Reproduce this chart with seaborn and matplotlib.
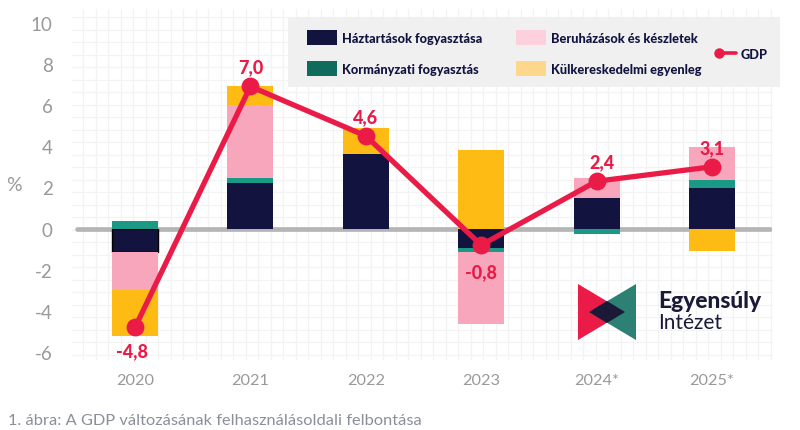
import numpy as np
import pandas as pd
import seaborn as sns
import matplotlib.pyplot as plt
from matplotlib.patches import Polygon, Rectangle

years = ["2020", "2021", "2022", "2023", "2024*", "2025*"]
haztartas = [-1.15, 2.2, 3.6, -0.95, 1.5, 1.95]
kormanyzati = [0.38, 0.25, 0.0, -0.2, -0.27, 0.4]
beruhazas = [-1.85, 3.55, 0.0, -3.5, 0.95, 1.6]
kulker = [-2.2, 0.9, 1.3, 3.8, 0.0, -1.1]
gdp = [-4.8, 6.9, 4.5, -0.8, 2.3, 3.0]
gdp_labels = ["-4,8", "7,0", "4,6", "-0,8", "2,4", "3,1"]
y_ticks = [-6, -4, -2, 0, 2, 4, 6, 8, 10]

series_names = ["Háztartások fogyasztása", "Kormányzati fogyasztás",
                "Beruházások és készletek", "Külkereskedelmi egyenleg"]
bar_colors = ["#12143f", "#1a9985", "#f7a6bc", "#fdbb13"]
legend_colors = ["#12143f", "#0f6b5c", "#fcd0dc", "#fdd78c"]
red = "#ea1b47"
grey = "#999999"

sns.set_theme(style="white")
plt.rcParams["font.family"] = ["Lato", "DejaVu Sans"]
plt.rcParams["axes.unicode_minus"] = False

W, H = 800, 431
fig = plt.figure(figsize=(W / 100, H / 100), dpi=100)

# background grid and overlay use pixel coordinates of the picture
bg = fig.add_axes([0, 0, 1, 1], zorder=0)
bg.set_xlim(0, W)
bg.set_ylim(H, 0)
bg.axis("off")
for gx in np.arange(83, 772, 12.5):
    bg.plot([gx, gx], [10, 360], color="#f3f3f3", lw=0.9)
for gy in np.arange(18.3, 360, 12.5):
    bg.plot([72, 772], [gy, gy], color="#f3f3f3", lw=0.9)

ax = fig.add_axes([72 / W, 1 - 360 / H, 700 / W, 350 / H], zorder=1)
ax.patch.set_alpha(0)

pos_base = np.zeros(len(years))
neg_base = np.zeros(len(years))
for values, name, color in zip([haztartas, kormanyzati, beruhazas, kulker], series_names, bar_colors):
    values = np.array(values)
    bottoms = np.where(values >= 0, pos_base, neg_base)
    frame = pd.DataFrame({"year": years, "value": values})
    sns.barplot(data=frame, x="year", y="value", color=color, saturation=1, width=0.4,
                bottom=bottoms, errorbar=None, linewidth=0, ax=ax)
    pos_base += np.clip(values, 0, None)
    neg_base += np.clip(values, None, 0)

# the 2020 household bar has a black outline in the original
ax.containers[0][0].set_edgecolor("black")
ax.containers[0][0].set_linewidth(1.0)

ax.axhline(0, xmin=5 / 700, xmax=698 / 700, color="#b5b5b5", lw=3.4, zorder=0.5)

sns.pointplot(x=years, y=gdp, color=red, linewidth=3.8, markersize=10, errorbar=None, ax=ax)

offsets = [(-2, -17), (0, 14), (0, 14), (0, -19), (4, 14), (0, 14)]
for i, label in enumerate(gdp_labels):
    ax.annotate(label, (i, gdp[i]), xytext=offsets[i], textcoords="offset points",
                ha="center", va="center", color=red, fontsize=13, fontweight="black", zorder=5)

ax.set_xlim(-0.546, 5.52)
ax.set_ylim(-6.33, 10.66)
ax.set_yticks(y_ticks)
ax.set_xlabel("")
ax.set_ylabel("")
ax.tick_params(axis="y", labelsize=13.5, labelcolor=grey, length=0, pad=14)
ax.tick_params(axis="x", labelsize=11.7, labelcolor=grey, length=0, pad=10)
sns.despine(ax=ax, left=True, bottom=True)

# overlay: legend panel, logo, captions
top = fig.add_axes([0, 0, 1, 1], zorder=2)
top.set_xlim(0, W)
top.set_ylim(H, 0)
top.axis("off")

top.add_patch(Rectangle((288, 18), 492, 70, color="#f0f0f0", lw=0))
slots = [(307, 31), (307, 62), (516, 31), (516, 62)]
for (lx, ly), name, color in zip(slots, series_names, legend_colors):
    top.add_patch(Rectangle((lx, ly), 30, 15, color=color, lw=0))
    top.text(lx + 35, ly + 8, name, fontsize=9.2, fontweight="black", color="#12143f", va="center")
top.plot([717, 736], [54, 54], color=red, lw=2.6, solid_capstyle="round")
top.plot([719], [54], "o", color=red, ms=6.5)
top.text(741, 55, "GDP", fontsize=9.2, fontweight="black", color="#12143f", va="center")

top.add_patch(Polygon([(578, 285), (578, 341), (625, 313)], color="#ea1b47", lw=0))
top.add_patch(Polygon([(636, 285), (636, 341), (589, 313)], color="#2d8074", lw=0))
top.add_patch(Polygon([(589, 313), (607, 302), (625, 313), (607, 324)], color="#1a1a38", lw=0))
top.text(658, 302, "Egyensúly", fontsize=16.4, fontweight="black", color="#1a1a38", va="center")
top.text(658, 323, "Intézet", fontsize=15, color="#1a1a38", va="center")

top.text(22, 186, "%", fontsize=14, color=grey, ha="right", va="center")
top.text(8, 421, "1. ábra: A GDP változásának felhasználásoldali felbontása",
         fontsize=11.8, color="#8a8f9a", va="center")

fig.savefig("out.png", dpi=100)
